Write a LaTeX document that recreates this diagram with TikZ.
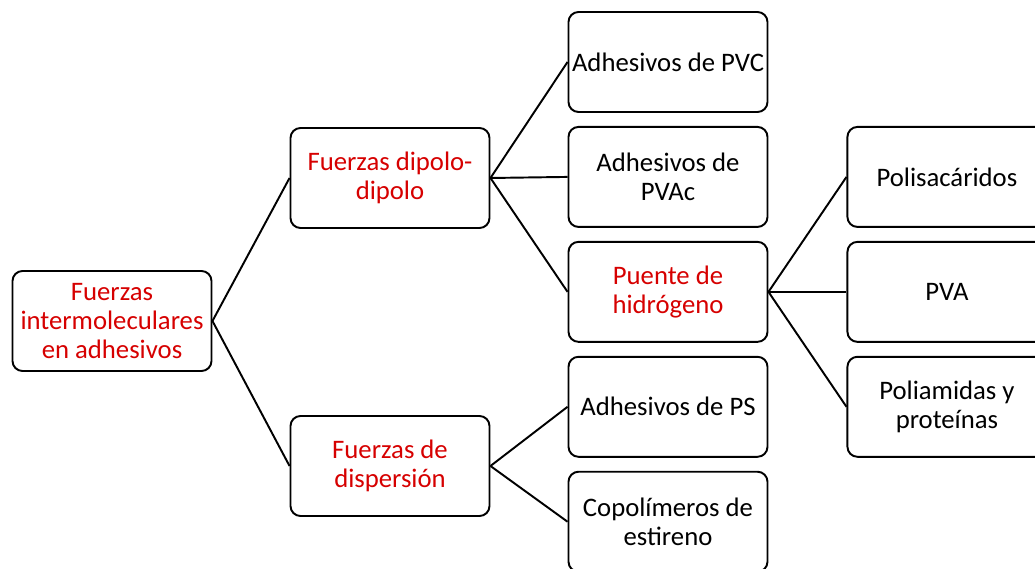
\documentclass[tikz,border=0pt]{standalone}
\usepackage{fontspec}
\setmainfont{Carlito}
\usetikzlibrary{positioning}
\definecolor{titlered}{RGB}{214,0,0}

\begin{document}
\begin{tikzpicture}[node distance=0.26cm and 1.56cm]

	\tikzset{box/.style={draw, line width=1.1pt, rounded corners=0.2cm, minimum width=3.98cm, minimum height=2cm, inner sep=1pt, align=center, font=\fontsize{15.2}{16.5}\selectfont}}
	\tikzset{main/.style={box, text=titlered}}
	\tikzset{link/.style={line width=1.1pt}}

	\useasboundingbox (0,0) rectangle (20.7,11.38);
	\clip (0,0) rectangle (20.7,11.38);

	\node [main] (root) at (2.24,4.96) {Fuerzas\\intermoleculares\\en adhesivos};
	\node [main] (dipolo) at (7.8,7.82) {Fuerzas dipolo-\\dipolo};
	\node [main] (dispersion) at (7.8,2.06) {Fuerzas de\\dispersión};

	% tercera columna
	\node [box] (pvc) at (13.36,10.14) {Adhesivos de PVC};
	\node [box, below = of pvc] (pvac) {Adhesivos de\\PVAc};
	\node [main, below = of pvac] (puente) {Puente de\\hidrógeno};
	\node [box, below = of puente] (ps) {Adhesivos de PS};
	\node [box, below = of ps] (copol) {Copolímeros de\\estireno};

	% cuarta columna
	\node [box, right = of puente] (pva) {PVA};
	\node [box, above = of pva] (polisac) {Polisacáridos};
	\node [box, below = of pva] (poliam) {Poliamidas y\\proteínas};

	\draw [link] (root.east) -- (dipolo.west);
	\draw [link] (root.east) -- (dispersion.west);
	\draw [link] (dipolo.east) -- (pvc.west);
	\draw [link] (dipolo.east) -- (pvac.west);
	\draw [link] (dipolo.east) -- (puente.west);
	\draw [link] (dispersion.east) -- (ps.west);
	\draw [link] (dispersion.east) -- (copol.west);
	\draw [link] (puente.east) -- (polisac.west);
	\draw [link] (puente.east) -- (pva.west);
	\draw [link] (puente.east) -- (poliam.west);

\end{tikzpicture}
\end{document}
